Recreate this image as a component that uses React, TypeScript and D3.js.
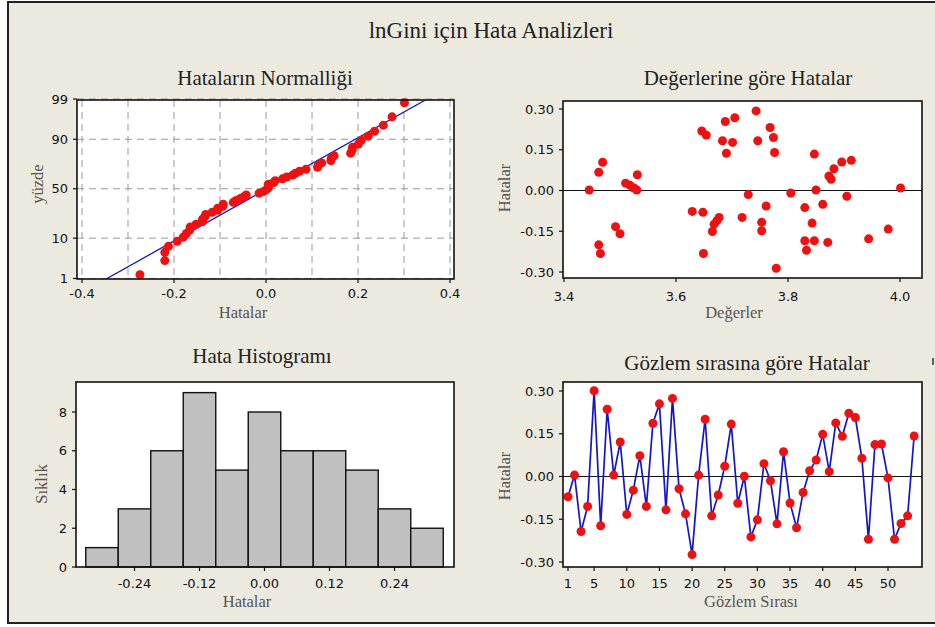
import React from "react";
import * as d3 from "d3";

const residuals = [
  -0.071, 0.005, -0.193, -0.105, 0.301, -0.173, 0.236, 0.005, 0.121, -0.133,
  -0.048, 0.073, -0.105, 0.187, 0.255, -0.117, 0.274, -0.043, -0.131, -0.274,
  0.005, 0.201, -0.138, -0.065, 0.036, 0.184, -0.094, 0.001, -0.212, -0.152,
  0.045, -0.015, -0.166, 0.087, -0.093, -0.18, -0.056, 0.02, 0.058, 0.148,
  0.017, 0.188, 0.141, 0.222, 0.207, 0.064, -0.22, 0.112, 0.114, -0.005,
  -0.22, -0.165, -0.138, 0.142,
];

// fitted values vs residuals (scatter panel)
const fitValues = [
  3.445, 3.462, 3.469, 3.462, 3.465, 3.492, 3.5, 3.51, 3.518, 3.525,
  3.53, 3.531, 3.629, 3.648, 3.646, 3.654, 3.649, 3.665, 3.668, 3.673,
  3.677, 3.683, 3.688, 3.69, 3.701, 3.705, 3.718, 3.729, 3.743, 3.746,
  3.753, 3.753, 3.761, 3.768, 3.774, 3.776, 3.779, 3.805, 3.83, 3.83,
  3.833, 3.843, 3.847, 3.847, 3.85, 3.862, 3.871, 3.873, 3.877, 3.882,
  3.896, 3.905, 3.913, 3.944, 3.979, 4.001,
];
const fitResiduals = [
  0.002, 0.067, 0.104, -0.2, -0.232, -0.133, -0.159, 0.027, 0.019, 0.009,
  0.002, 0.058, -0.077, -0.08, 0.219, 0.204, -0.232, -0.151, -0.124, -0.111,
  -0.099, 0.183, 0.254, 0.137, 0.177, 0.268, -0.099, -0.015, 0.293, 0.183,
  -0.117, -0.148, -0.057, 0.232, 0.195, 0.14, -0.286, -0.009, -0.063, -0.185,
  -0.22, -0.12, 0.134, -0.185, 0.002, -0.051, -0.191, 0.053, 0.041, 0.08,
  0.105, -0.021, 0.111, -0.178, -0.142, 0.009,
];

const histMids = [-0.3, -0.24, -0.18, -0.12, -0.06, 0, 0.06, 0.12, 0.18, 0.24, 0.3];
const histCounts = [1, 3, 6, 9, 5, 8, 6, 6, 5, 3, 2];

const pctTicks = [1, 10, 50, 90, 99];
const errTicks = [-0.4, -0.2, 0, 0.2, 0.4];
const errGrid = [-0.4, -0.3, -0.2, -0.1, 0, 0.1, 0.2, 0.3, 0.4];
const fitTicks = [3.4, 3.6, 3.8, 4.0];
const resTicks = [0.3, 0.15, 0, -0.15, -0.3];
const histTicks = [-0.24, -0.12, 0, 0.12, 0.24];
const countTicks = [0, 2, 4, 6, 8];
const orderTicks = [1, 5, 10, 15, 20, 25, 30, 35, 40, 45, 50];

const BG = "#ece9df";
const RED = "#ee1111";
const BLUE = "#1414c8";
const serif = "'Liberation Serif', 'Times New Roman', serif";
const sans = "'DejaVu Sans', sans-serif";

// inverse normal cdf (Acklam)
function probit(p: number) {
  const a = [-39.69683028665376, 220.9460984245205, -275.9285104469687, 138.357751867269, -30.66479806614716, 2.506628277459239];
  const b = [-54.47609879822406, 161.5858368580409, -155.6989798598866, 66.80131188771972, -13.28068155288572];
  const c = [-0.007784894002430293, -0.3223964580411365, -2.400758277161838, -2.549671010229583, 4.374664141464968, 2.938163982698783];
  const d = [0.007784695709041462, 0.3224671290700398, 2.445134137142996, 3.754408661907416];
  const pl = 0.02425;
  if (p < pl) {
    const q = Math.sqrt(-2 * Math.log(p));
    return (((((c[0] * q + c[1]) * q + c[2]) * q + c[3]) * q + c[4]) * q + c[5]) / ((((d[0] * q + d[1]) * q + d[2]) * q + d[3]) * q + 1);
  }
  if (p > 1 - pl) {
    const q = Math.sqrt(-2 * Math.log(1 - p));
    return -(((((c[0] * q + c[1]) * q + c[2]) * q + c[3]) * q + c[4]) * q + c[5]) / ((((d[0] * q + d[1]) * q + d[2]) * q + d[3]) * q + 1);
  }
  const q = p - 0.5, r = q * q;
  return ((((((a[0] * r + a[1]) * r + a[2]) * r + a[3]) * r + a[4]) * r + a[5]) * q) / (((((b[0] * r + b[1]) * r + b[2]) * r + b[3]) * r + b[4]) * r + 1);
}

type Box = { x0: number; x1: number; y0: number; y1: number };

function XAxis({ box, scale, ticks, fmt, gap }: any) {
  return (
    <g>
      {ticks.map((t: number, i: number) => (
        <g key={i}>
          <line x1={scale(t)} x2={scale(t)} y1={box.y1} y2={box.y1 + 4} stroke="#111" strokeWidth={1.2} />
          <text x={scale(t)} y={box.y1 + gap} textAnchor="middle" fontFamily={sans} fontSize={13} fill="#111">
            {fmt(t)}
          </text>
        </g>
      ))}
    </g>
  );
}

function YAxis({ box, scale, ticks, fmt }: any) {
  return (
    <g>
      {ticks.map((t: number, i: number) => (
        <g key={i}>
          <line x1={box.x0 - 4} x2={box.x0} y1={scale(t)} y2={scale(t)} stroke="#111" strokeWidth={1.2} />
          <text x={box.x0 - 9} y={scale(t)} dy="0.36em" textAnchor="end" fontFamily={sans} fontSize={13} fill="#111">
            {fmt(t)}
          </text>
        </g>
      ))}
    </g>
  );
}

function Frame({ box }: { box: Box }) {
  return <rect x={box.x0} y={box.y0} width={box.x1 - box.x0} height={box.y1 - box.y0} fill="none" stroke="#111" strokeWidth={1.6} />;
}

function Title({ x, y, text }: any) {
  return <text x={x} y={y} textAnchor="middle" fontFamily={serif} fontSize={21} fill="#222">{text}</text>;
}

function AxisLabel({ x, y, text, rotate }: any) {
  return (
    <text x={x} y={y} textAnchor="middle" fontFamily={serif} fontSize={16.5} fill="#555"
      transform={rotate ? `rotate(-90 ${x} ${y})` : undefined}>
      {text}
    </text>
  );
}

// plain hyphen instead of d3's unicode minus, as in the original
const fmtNum = (spec: string) => {
  const f = d3.format(spec);
  return (v: number) => f(v).replace("\u2212", "-");
};

export default function App() {
  // panel 1: normal probability plot
  const bA: Box = { x0: 77, x1: 454, y0: 100, y1: 279 };
  const xA = d3.scaleLinear().domain([-0.4, 0.4]).range([82, 450]);
  const zA = d3.scaleLinear().domain([-2.34, 2.3]).range([bA.y1, bA.y0]);
  const sorted = residuals.slice().sort(d3.ascending);
  const n = sorted.length;
  const mu = d3.mean(residuals) as number;
  const sd = d3.deviation(residuals) as number;
  const zs = zA.domain();
  const fitLine = d3.line<number>().x((z) => xA(mu + sd * z)).y((z) => zA(z));

  // panel 2: residuals vs fits
  const bB: Box = { x0: 563, x1: 922, y0: 101, y1: 278 };
  const xB = d3.scaleLinear().domain([3.4, 4.0]).range([564, 900]);
  const yB = d3.scaleLinear().domain([-0.3, 0.3]).range([272, 109]);

  // panel 3: histogram
  const bC: Box = { x0: 76, x1: 454, y0: 382, y1: 567 };
  const xC = d3.scaleLinear().domain([-0.24, 0.24]).range([134.5, 394.5]);
  const yC = d3.scaleLinear().domain([0, 8]).range([567, 412]);
  const binW = 0.06;

  // panel 4: residuals vs order
  const bD: Box = { x0: 563, x1: 922, y0: 382, y1: 567 };
  const xD = d3.scaleLinear().domain([1, 50]).range([568, 888]);
  const yD = d3.scaleLinear().domain([-0.3, 0.3]).range([562, 391]);
  const orderLine = d3.line<number>().x((_, i) => xD(i + 1)).y((v) => yD(v));

  const f1 = fmtNum(".1f");
  const f2 = fmtNum(".2f");

  return (
    <svg width={935} height={627} style={{ position: "absolute", left: 0, top: 0, background: "#fff" }}>
      <defs>
        <clipPath id="clipA">
          <rect x={bA.x0} y={bA.y0} width={bA.x1 - bA.x0} height={bA.y1 - bA.y0} />
        </clipPath>
      </defs>
      <rect x={8} y={2} width={940} height={621} fill={BG} stroke="#222" strokeWidth={2} />
      <text x={491} y={38} textAnchor="middle" fontFamily={serif} fontSize={23} fill="#222">
        lnGini için Hata Analizleri
      </text>

      {/* Hataların Normalliği */}
      <Title x={265} y={85} text="Hataların Normalliği" />
      <rect x={bA.x0} y={bA.y0} width={bA.x1 - bA.x0} height={bA.y1 - bA.y0} fill="#fff" />
      {errGrid.map((t, i) => (
        <line key={i} x1={xA(t)} x2={xA(t)} y1={bA.y0} y2={bA.y1} stroke="#9a9a9a" strokeDasharray="7,5" />
      ))}
      {pctTicks.map((p, i) => (
        <line key={i} x1={bA.x0} x2={bA.x1} y1={zA(probit(p / 100))} y2={zA(probit(p / 100))} stroke="#9a9a9a" strokeDasharray="7,5" />
      ))}
      <g clipPath="url(#clipA)">
        <path d={fitLine(zs) || ""} fill="none" stroke={BLUE} strokeWidth={1.3} />
      </g>
      {sorted.map((v, i) => (
        <circle key={i} cx={xA(v)} cy={zA(probit((i + 1 - 0.3) / (n + 0.4)))} r={4.5} fill={RED} />
      ))}
      <Frame box={bA} />
      <XAxis box={bA} scale={xA} ticks={errTicks} fmt={f1} gap={19} />
      <YAxis box={bA} scale={(p: number) => zA(probit(p / 100))} ticks={pctTicks} fmt={(p: number) => String(p)} />
      <AxisLabel x={243} y={318} text="Hatalar" />
      <AxisLabel x={43} y={184} text="yüzde" rotate />

      {/* Değerlerine göre Hatalar */}
      <Title x={748} y={85} text="Değerlerine göre Hatalar" />
      <rect x={bB.x0} y={bB.y0} width={bB.x1 - bB.x0} height={bB.y1 - bB.y0} fill="#fff" />
      <line x1={bB.x0} x2={bB.x1} y1={yB(0)} y2={yB(0)} stroke="#111" strokeWidth={1.2} />
      {fitValues.map((v, i) => (
        <circle key={i} cx={xB(v)} cy={yB(fitResiduals[i])} r={4.5} fill={RED} />
      ))}
      <Frame box={bB} />
      <XAxis box={bB} scale={xB} ticks={fitTicks} fmt={f1} gap={23} />
      <YAxis box={bB} scale={yB} ticks={resTicks} fmt={f2} />
      <AxisLabel x={734} y={318} text="Değerler" />
      <AxisLabel x={510} y={188} text="Hatalar" rotate />

      {/* Hata Histogramı */}
      <Title x={262} y={363} text="Hata Histogramı" />
      <rect x={bC.x0} y={bC.y0} width={bC.x1 - bC.x0} height={bC.y1 - bC.y0} fill="#fff" />
      {histMids.map((m, i) => (
        <rect key={i} x={xC(m - binW / 2)} y={yC(histCounts[i])} width={xC(m + binW / 2) - xC(m - binW / 2)}
          height={yC(0) - yC(histCounts[i])} fill="#c0c0c0" stroke="#111" strokeWidth={1.4} />
      ))}
      <Frame box={bC} />
      <XAxis box={bC} scale={xC} ticks={histTicks} fmt={f2} gap={21} />
      <YAxis box={bC} scale={yC} ticks={countTicks} fmt={(v: number) => String(v)} />
      <AxisLabel x={247} y={607} text="Hatalar" />
      <AxisLabel x={47} y={484} text="Sıklık" rotate />

      {/* Gözlem sırasına göre Hatalar */}
      <Title x={747} y={370} text="Gözlem sırasına göre Hatalar" />
      <rect x={bD.x0} y={bD.y0} width={bD.x1 - bD.x0} height={bD.y1 - bD.y0} fill="#fff" />
      <line x1={bD.x0} x2={bD.x1} y1={yD(0)} y2={yD(0)} stroke="#111" strokeWidth={1.2} />
      <path d={orderLine(residuals) || ""} fill="none" stroke={BLUE} strokeWidth={1.7} />
      {residuals.map((v, i) => (
        <circle key={i} cx={xD(i + 1)} cy={yD(v)} r={4.5} fill={RED} />
      ))}
      <Frame box={bD} />
      <XAxis box={bD} scale={xD} ticks={orderTicks} fmt={(v: number) => String(v)} gap={21} />
      <YAxis box={bD} scale={yD} ticks={resTicks} fmt={f2} />
      <AxisLabel x={751} y={607} text="Gözlem Sırası" />
      <AxisLabel x={510} y={476} text="Hatalar" rotate />

      <line x1={933} x2={933} y1={358} y2={365} stroke="#333" strokeWidth={1.5} />
    </svg>
  );
}
